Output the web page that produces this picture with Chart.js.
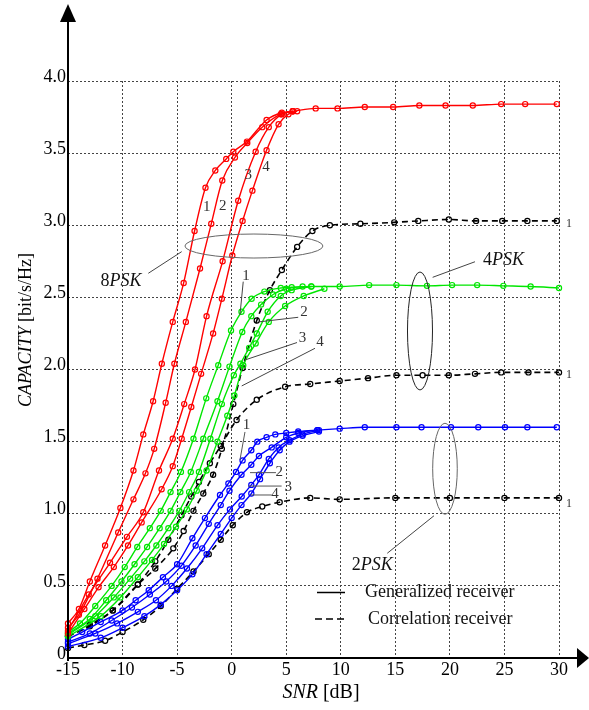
<!DOCTYPE html>
<html>
<head>
<meta charset="utf-8">
<script src="https://cdn.jsdelivr.net/npm/chart.js@4.4.0/dist/chart.umd.min.js"></script>
<style>
  html, body { margin: 0; padding: 0; background: #fff; }
  #wrap { width: 589px; height: 710px; }
</style>
</head>
<body>
<div id="wrap"><canvas id="c" width="589" height="710"></canvas></div>
<script>
// Axis tick labels
const snrTicks = ['-15', '-10', '-5', '0', '5', '10', '15', '20', '25', '30'];
const capTicks = ['0', '0.5', '1.0', '1.5', '2.0', '2.5', '3.0', '3.5', '4.0'];

// 8PSK, generalized receiver (curves 1-4)
const snrR1 = [-15, -14.0, -13.0, -11.6, -10.2, -9.0, -8.1, -7.2, -6.4, -5.4, -4.4, -3.4, -2.4, -1.5, -0.5, 0.15, 1.4, 3.2, 4.6, 5.6, 7.7, 9.7, 12.2, 14.8, 17.2, 19.6, 22.1, 24.7, 26.9, 29.8];
const capR1 = [0.24, 0.34, 0.53, 0.78, 1.04, 1.30, 1.55, 1.78, 2.04, 2.33, 2.60, 2.96, 3.26, 3.38, 3.46, 3.51, 3.58, 3.73, 3.78, 3.79, 3.81, 3.81, 3.82, 3.82, 3.83, 3.83, 3.83, 3.84, 3.84, 3.84];
const snrR2 = [-15, -14.0, -12.3, -10.4, -9.0, -7.9, -7.1, -6.05, -5.25, -4.2, -2.9, -1.87, -0.86, 0.3, 1.43, 2.8, 4.5, 5.6];
const capR2 = [0.21, 0.30, 0.55, 0.87, 1.10, 1.28, 1.45, 1.77, 2.04, 2.33, 2.70, 3.01, 3.31, 3.47, 3.57, 3.68, 3.77, 3.79];
const snrR3 = [-15, -13.1, -11.15, -9.6, -8.1, -6.66, -5.4, -4.35, -3.36, -2.3, -0.83, 0.6, 2.2, 3.4, 4.6, 5.6];
const capR3 = [0.19, 0.44, 0.66, 0.84, 1.01, 1.30, 1.52, 1.76, 2.00, 2.37, 2.75, 3.17, 3.51, 3.68, 3.77, 3.79];
const snrR4 = [-15, -13.5, -12.2, -10.8, -9.5, -8.25, -6.42, -5.4, -4.58, -3.7, -2.8, -1.7, -0.9, 0.06, 1.0, 1.9, 3.2, 4.3, 5.2, 6.0];
const capR4 = [0.17, 0.34, 0.49, 0.63, 0.78, 0.94, 1.17, 1.33, 1.52, 1.74, 1.97, 2.25, 2.49, 2.79, 3.03, 3.24, 3.52, 3.70, 3.77, 3.79];

// 4PSK, generalized receiver (curves 1-4)
const snrG1 = [-15, -13.9, -12.5, -11.0, -9.8, -8.65, -7.5, -6.5, -5.6, -4.65, -3.5, -2.33, -1.23, -0.06, 0.9, 1.83, 3.0, 4.5, 5.5, 7.3, 9.9, 12.6, 15.1, 17.9, 20.2, 22.5, 24.9, 27.4, 30];
const capG1 = [0.18, 0.24, 0.36, 0.50, 0.63, 0.77, 0.90, 1.02, 1.15, 1.29, 1.52, 1.80, 2.03, 2.27, 2.40, 2.49, 2.54, 2.565, 2.57, 2.575, 2.575, 2.585, 2.585, 2.58, 2.585, 2.585, 2.58, 2.575, 2.565];
const snrG2 = [-15, -13.0, -11.5, -10.1, -8.9, -7.75, -6.6, -5.6, -4.7, -3.75, -2.6, -1.3, -0.2, 0.97, 1.8, 2.7, 3.8, 5.0, 6.5];
const capG2 = [0.17, 0.27, 0.40, 0.53, 0.65, 0.77, 0.90, 1.02, 1.15, 1.29, 1.52, 1.78, 2.02, 2.26, 2.37, 2.45, 2.52, 2.56, 2.575];
const snrG3 = [-15, -12.5, -10.8, -9.3, -8.0, -6.9, -5.8, -4.8, -3.9, -3.0, -1.95, -0.9, 0.2, 0.8, 1.6, 2.3, 3.3, 4.5, 5.5, 7.3];
const capG3 = [0.16, 0.29, 0.42, 0.55, 0.67, 0.78, 0.90, 1.02, 1.15, 1.29, 1.52, 1.76, 1.96, 2.04, 2.15, 2.25, 2.40, 2.51, 2.55, 2.575];
const snrG4 = [-15, -12.0, -10.2, -8.6, -7.3, -6.2, -5.1, -4.1, -3.2, -2.3, -1.3, -0.4, 0.25, 1.06, 2.2, 3.4, 4.9, 6.6, 8.5];
const capG4 = [0.15, 0.29, 0.42, 0.56, 0.68, 0.79, 0.91, 1.03, 1.16, 1.30, 1.50, 1.68, 1.82, 2.03, 2.18, 2.33, 2.44, 2.51, 2.56];

// 2PSK, generalized receiver (curves 1-4)
const snrB1 = [-15, -13.7, -12.0, -10.0, -8.8, -7.6, -6.3, -5.0, -3.6, -2.45, -1.07, -0.3, 0.4, 1.0, 1.8, 2.35, 3.2, 4.0, 5.0, 6.1, 7.85, 9.9, 12.2, 15.1, 17.4, 20.1, 22.6, 25.05, 27.1, 29.8];
const capB1 = [0.13, 0.18, 0.25, 0.33, 0.40, 0.47, 0.56, 0.65, 0.83, 0.97, 1.13, 1.21, 1.29, 1.37, 1.44, 1.50, 1.53, 1.55, 1.56, 1.57, 1.58, 1.59, 1.60, 1.60, 1.60, 1.60, 1.60, 1.60, 1.60, 1.60];
const snrB2 = [-15, -13.0, -11.0, -9.14, -7.5, -6.0, -4.6, -3.3, -2.1, -1.0, -0.2, 0.9, 1.8, 2.5, 3.67, 5.0, 6.1, 7.85];
const capB2 = [0.11, 0.17, 0.26, 0.35, 0.44, 0.53, 0.64, 0.78, 0.93, 1.06, 1.16, 1.27, 1.34, 1.40, 1.46, 1.53, 1.56, 1.58];
const snrB3 = [-15, -12.5, -10.5, -8.6, -6.94, -5.5, -4.1, -2.7, -1.3, -0.16, 0.92, 1.8, 2.5, 3.4, 4.3, 5.3, 6.5, 8.0];
const capB3 = [0.10, 0.17, 0.24, 0.32, 0.40, 0.50, 0.62, 0.76, 0.92, 1.03, 1.12, 1.20, 1.27, 1.38, 1.46, 1.51, 1.55, 1.58];
const snrB4 = [-15, -12.0, -10.0, -8.0, -6.5, -5.0, -3.6, -2.3, -1.0, 0.0, 0.9, 1.8, 2.6, 3.5, 4.4, 5.3, 6.5, 8.0];
const capB4 = [0.08, 0.14, 0.21, 0.29, 0.37, 0.47, 0.58, 0.72, 0.86, 0.97, 1.06, 1.14, 1.24, 1.35, 1.44, 1.50, 1.54, 1.57];

// Correlation receiver (curve 1 of each modulation)
const snrK8 = [-15, -13.0, -10.9, -8.6, -7.0, -5.35, -4.4, -3.5, -2.6, -1.7, -0.9, 0.15, 1.0, 2.3, 3.5, 4.6, 6.0, 7.4, 9.0, 11.8, 14.9, 17.1, 19.9, 22.4, 24.8, 27.1, 29.8];
const capK8 = [0.15, 0.22, 0.33, 0.51, 0.62, 0.76, 0.88, 1.02, 1.14, 1.27, 1.45, 1.76, 2.01, 2.34, 2.55, 2.69, 2.85, 2.96, 3.00, 3.01, 3.02, 3.03, 3.04, 3.03, 3.03, 3.03, 3.03];
const snrK4 = [-15, -13.0, -10.9, -8.6, -7.0, -5.8, -4.6, -3.7, -3.0, -2.0, -1.0, 0.45, 2.3, 4.9, 7.2, 9.9, 12.5, 15.1, 17.5, 19.9, 22.3, 24.7, 27.2, 30];
const capK4 = [0.15, 0.23, 0.33, 0.51, 0.67, 0.82, 0.99, 1.12, 1.22, 1.35, 1.47, 1.65, 1.79, 1.88, 1.90, 1.92, 1.94, 1.96, 1.96, 1.96, 1.97, 1.98, 1.98, 1.98];
const snrK2 = [-15, -13.5, -11.6, -10.0, -8.1, -6.5, -5.0, -3.5, -2.1, -1.0, 0.1, 1.4, 2.8, 4.4, 7.2, 9.9, 15.0, 20.0, 25.0, 30.0];
const capK2 = [0.07, 0.09, 0.12, 0.18, 0.265, 0.36, 0.48, 0.60, 0.72, 0.82, 0.92, 1.01, 1.05, 1.08, 1.11, 1.10, 1.11, 1.11, 1.11, 1.11];

const SERIF = '"Liberation Serif", "Times New Roman", serif';
const RED = '#ff0000', GREEN = '#00e600', BLUE = '#0000ff', BLACK = '#000000';

function pairs(xs, ys) {
  return xs.map((x, i) => ({ x: x, y: ys[i] }));
}

function curve(xs, ys, color, dashed) {
  return {
    data: pairs(xs, ys),
    showLine: true,
    borderColor: color,
    backgroundColor: 'rgba(0,0,0,0)',
    borderWidth: dashed ? 1.6 : 1.4,
    borderDash: dashed ? [6, 4] : [],
    cubicInterpolationMode: 'monotone',
    pointStyle: 'circle',
    pointRadius: 2.6,
    pointBorderWidth: 1.2,
    pointBorderColor: color,
    pointBackgroundColor: 'rgba(255,255,255,0)',
    fill: false,
    clip: false
  };
}

// Draws a run of text pieces, some italic, as one line
function richText(ctx, parts, x, y, align, size, color) {
  const fontOf = p => (p[1] ? 'italic ' : '') + size + 'px ' + SERIF;
  const widths = parts.map(p => { ctx.font = fontOf(p); return ctx.measureText(p[0]).width; });
  const total = widths.reduce((a, b) => a + b, 0);
  let cx = align === 'center' ? x - total / 2 : (align === 'right' ? x - total : x);
  ctx.fillStyle = color || '#000';
  ctx.textAlign = 'left';
  ctx.textBaseline = 'middle';
  parts.forEach((p, i) => { ctx.font = fontOf(p); ctx.fillText(p[0], cx, y); cx += widths[i]; });
}

// Axes with arrow heads, group ellipses, curve numbers and the line-style key
const decor = {
  id: 'decor',
  afterDraw(chart) {
    const ctx = chart.ctx;
    const xs = chart.scales.x, ys = chart.scales.y;
    const X = v => xs.getPixelForValue(v);
    const Y = v => ys.getPixelForValue(v);
    ctx.save();

    // axes
    const ox = X(-15), oy = Y(0);
    ctx.strokeStyle = '#000';
    ctx.lineWidth = 2;
    ctx.setLineDash([]);
    ctx.beginPath(); ctx.moveTo(ox, oy + 3); ctx.lineTo(ox, 20); ctx.stroke();
    ctx.beginPath(); ctx.moveTo(ox - 1, oy); ctx.lineTo(579, oy); ctx.stroke();
    ctx.fillStyle = '#000';
    ctx.beginPath(); ctx.moveTo(ox, 4); ctx.lineTo(ox - 8, 22); ctx.lineTo(ox + 8, 22); ctx.closePath(); ctx.fill();
    ctx.beginPath(); ctx.moveTo(589, oy); ctx.lineTo(577, oy - 10); ctx.lineTo(577, oy + 10); ctx.closePath(); ctx.fill();

    // axis titles
    ctx.save();
    ctx.translate(26, 330);
    ctx.rotate(-Math.PI / 2);
    richText(ctx, [['CAPACITY', true], [' [bit/s/Hz]', false]], 0, 0, 'center', 18);
    ctx.restore();
    richText(ctx, [['SNR', true], [' [dB]', false]], 321, 693, 'center', 20);

    // group ellipses and their leaders
    ctx.lineWidth = 1;
    const ellipse = (cx, cy, rx, ry, color) => {
      ctx.strokeStyle = color;
      ctx.beginPath(); ctx.ellipse(X(cx), Y(cy), rx, ry, 0, 0, Math.PI * 2); ctx.stroke();
    };
    const seg = (x1, y1, x2, y2, color) => {
      ctx.strokeStyle = color;
      ctx.beginPath(); ctx.moveTo(X(x1), Y(y1)); ctx.lineTo(X(x2), Y(y2)); ctx.stroke();
    };
    ellipse(2.04, 2.856, 69, 12, '#666');
    seg(-4.58, 2.817, -7.64, 2.667, '#444');
    richText(ctx, [['8', false], ['PSK', true]], X(-10.15), Y(2.614), 'center', 18, '#111');

    ellipse(17.26, 2.267, 12.5, 59, '#222');
    seg(18.42, 2.639, 22.30, 2.747, '#444');
    richText(ctx, [['4', false], ['PSK', true]], X(23.03), Y(2.759), 'left', 18, '#111');

    ellipse(19.55, 1.312, 12.3, 45.5, '#666');
    seg(18.54, 0.986, 14.26, 0.726, '#444');
    richText(ctx, [['2', false], ['PSK', true]], X(11.0), Y(0.645), 'left', 18, '#111');

    // curve numbers
    const num = (t, x, y, size, align) => richText(ctx, [[t, false]], X(x), Y(y), align || 'center', size || 15, '#333');
    num('1', -2.29, 3.124); num('2', -0.82, 3.136); num('3', 1.52, 3.348); num('4', 3.14, 3.406);

    seg(1.06, 2.609, 0.76, 2.378, '#444'); num('1', 1.31, 2.648);
    seg(2.59, 2.331, 6.10, 2.362, '#444'); num('2', 6.63, 2.401);
    seg(1.22, 2.066, 5.99, 2.187, '#444'); num('3', 6.49, 2.216);
    seg(0.92, 1.886, 7.64, 2.147, '#444'); num('4', 8.09, 2.187);

    seg(1.22, 1.567, 0.76, 1.373, '#555'); num('1', 1.37, 1.615);
    seg(1.68, 1.285, 4.06, 1.285, '#555'); num('2', 4.36, 1.292);
    seg(1.52, 1.192, 4.58, 1.192, '#555'); num('3', 5.19, 1.188);
    seg(1.74, 1.130, 3.67, 1.130, '#555'); num('4', 3.97, 1.135);

    num('1', 30.64, 3.009, 12, 'left');
    num('1', 30.64, 1.962, 12, 'left');
    num('1', 30.64, 1.068, 12, 'left');

    // line-style key
    ctx.strokeStyle = '#000';
    ctx.lineWidth = 1.5;
    ctx.beginPath(); ctx.moveTo(317, 592.5); ctx.lineTo(345, 592.5); ctx.stroke();
    ctx.setLineDash([7, 4]);
    ctx.beginPath(); ctx.moveTo(315, 619); ctx.lineTo(347, 619); ctx.stroke();
    ctx.setLineDash([]);
    richText(ctx, [['Generalized receiver', false]], 365, 592.5, 'left', 18, '#111');
    richText(ctx, [['Correlation receiver', false]], 368, 619, 'left', 18, '#111');

    ctx.restore();
  }
};

const datasets = [
  curve(snrR1, capR1, RED), curve(snrR2, capR2, RED), curve(snrR3, capR3, RED), curve(snrR4, capR4, RED),
  curve(snrG1, capG1, GREEN), curve(snrG2, capG2, GREEN), curve(snrG3, capG3, GREEN), curve(snrG4, capG4, GREEN),
  curve(snrB1, capB1, BLUE), curve(snrB2, capB2, BLUE), curve(snrB3, capB3, BLUE), curve(snrB4, capB4, BLUE),
  curve(snrK8, capK8, BLACK, true), curve(snrK4, capK4, BLACK, true), curve(snrK2, capK2, BLACK, true)
];

const gridStyle = { color: '#444', lineWidth: 1, drawTicks: false };
const borderStyle = { display: false, dash: [2, 2] };

new Chart(document.getElementById('c'), {
  type: 'scatter',
  data: { datasets: datasets },
  options: {
    responsive: false,
    animation: false,
    events: [],
    layout: { padding: { top: 81, right: 30, bottom: 0, left: 0 } },
    plugins: { legend: { display: false }, tooltip: { enabled: false }, title: { display: false } },
    scales: {
      x: {
        type: 'linear', min: -15, max: 30,
        afterFit: s => { s.height = 52; },
        grid: gridStyle, border: borderStyle,
        ticks: {
          stepSize: 5, autoSkip: false, maxRotation: 0, padding: 1,
          color: '#000', font: { family: SERIF, size: 18 },
          callback: (v, i) => snrTicks[i]
        }
      },
      y: {
        type: 'linear', min: 0, max: 4,
        afterFit: s => { s.width = 68; },
        grid: gridStyle, border: borderStyle,
        ticks: {
          stepSize: 0.5, autoSkip: false, padding: 2, labelOffset: -4,
          color: '#000', font: { family: SERIF, size: 18 },
          callback: (v, i) => capTicks[i]
        }
      }
    }
  },
  plugins: [decor]
});
</script>
</body>
</html>
